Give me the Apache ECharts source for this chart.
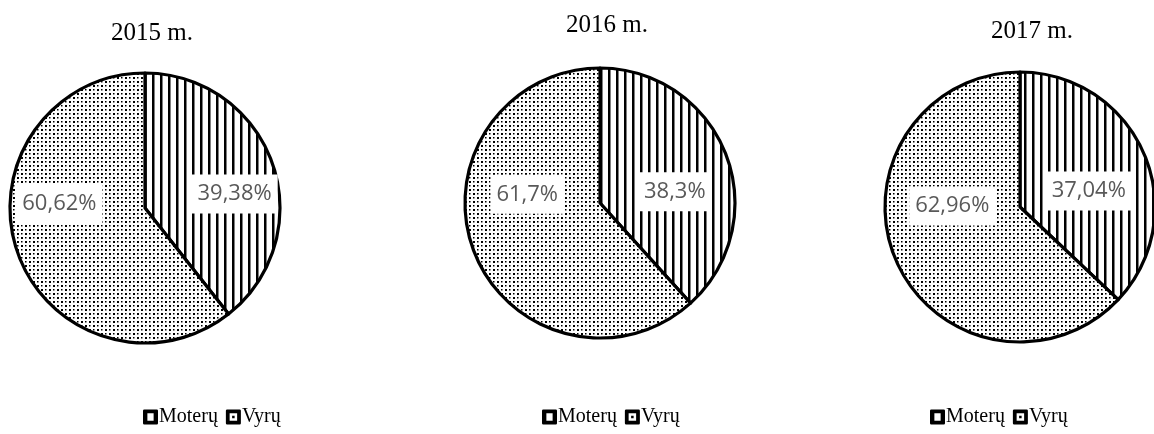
<!DOCTYPE html>
<html>
<head>
<meta charset="utf-8">
<script src="https://cdn.jsdelivr.net/npm/echarts@6/dist/echarts.min.js"></script>
<style>
  html, body { margin: 0; padding: 0; background: #fff; }
  #chart { width: 1154px; height: 434px; }
</style>
</head>
<body>
<div id="chart"></div>
<script>
// ---- Data ----
const years = ['2015 m.', '2016 m.', '2017 m.'];
const categories = ['Moterų', 'Vyrų'];
const moteru = [39.38, 38.3, 37.04];
const vyru = [60.62, 61.7, 62.96];

// ---- Patterns ----
function stripeCanvas() {
  const c = document.createElement('canvas');
  c.width = 8; c.height = 8;
  const g = c.getContext('2d');
  g.fillStyle = '#fff'; g.fillRect(0, 0, 8, 8);
  g.fillStyle = '#000'; g.fillRect(0, 0, 2.5, 8);
  return c;
}
function dotCanvas() {
  const c = document.createElement('canvas');
  c.width = 8; c.height = 8;
  const g = c.getContext('2d');
  g.fillStyle = '#fff'; g.fillRect(0, 0, 8, 8);
  g.fillStyle = '#000';
  g.fillRect(1, 1, 2, 2);
  g.fillRect(5, 5, 2, 2);
  g.fillRect(5, 1, 1.5, 1.5);
  g.fillRect(1, 5, 1.5, 1.5);
  return c;
}
const stripeFill = { image: stripeCanvas(), repeat: 'repeat' };
const dotFill = { image: dotCanvas(), repeat: 'repeat' };
const fills = [stripeFill, dotFill];

// ---- Layout (style) ----
const centers = [[145, 208], [600, 203], [1020, 207]];
const titlePos = [[147, 16], [602, 8], [1027, 14]];
const legendLeft = [138, 537, 925];
const labelNudge = [
  [[23, 9], [-19, -27]],
  [[9, 14], [-7, -34]],
  [[4, 12], [-3, -29]]
];
const iconM = 'path://M1,0h10a1,1 0 0 1 1,1v10a1,1 0 0 1 -1,1h-10a1,1 0 0 1 -1,-1v-10a1,1 0 0 1 1,-1Z M3.5,3v6h5v-6Z';
const iconV = 'path://M1,0h10a1,1 0 0 1 1,1v10a1,1 0 0 1 -1,1h-10a1,1 0 0 1 -1,-1v-10a1,1 0 0 1 1,-1Z M3,3v6h6v-6Z M5,5h2v2h-2Z';

const fmt = v => String(v).replace('.', ',') + '%';

const series = years.map((y, i) => ({
  type: 'pie',
  name: y,
  center: centers[i],
  radius: 135,
  startAngle: 90,
  clockwise: true,
  silent: true,
  animation: false,
  label: {
    show: true,
    position: 'inside',
    formatter: p => fmt(p.value),
    color: '#595959',
    fontFamily: 'Open Sans',
    fontSize: 22,
    backgroundColor: '#fff',
    padding: [9, 6, 8, 6]
  },
  labelLine: { show: false },
  labelLayout: p => ({ dx: labelNudge[i][p.dataIndex][0], dy: labelNudge[i][p.dataIndex][1] }),
  itemStyle: { borderColor: '#000', borderWidth: 3.2 },
  emphasis: { disabled: true },
  data: [
    { name: categories[0], value: moteru[i], itemStyle: { color: fills[0] } },
    { name: categories[1], value: vyru[i], itemStyle: { color: fills[1] } }
  ]
}));

const titles = years.map((y, i) => ({
  text: y,
  left: titlePos[i][0],
  top: titlePos[i][1],
  textAlign: 'center',
  textStyle: { fontFamily: 'Liberation Serif', fontSize: 25, fontWeight: 'normal', color: '#000' }
}));

const legends = years.map((y, i) => ({
  left: legendLeft[i],
  top: 402,
  orient: 'horizontal',
  itemWidth: 15,
  itemHeight: 15,
  itemGap: 8,
  selectedMode: false,
  itemStyle: { color: '#000', borderWidth: 0 },
  textStyle: { fontFamily: 'Liberation Serif', fontSize: 20, color: '#000', padding: [0, 0, 0, -4] },
  data: [
    { name: categories[0], icon: iconM },
    { name: categories[1], icon: iconV }
  ]
}));

const chart = echarts.init(document.getElementById('chart'), null, { renderer: 'canvas' });
chart.setOption({
  backgroundColor: '#fff',
  animation: false,
  title: titles,
  legend: legends,
  series: series
});
</script>
</body>
</html>
